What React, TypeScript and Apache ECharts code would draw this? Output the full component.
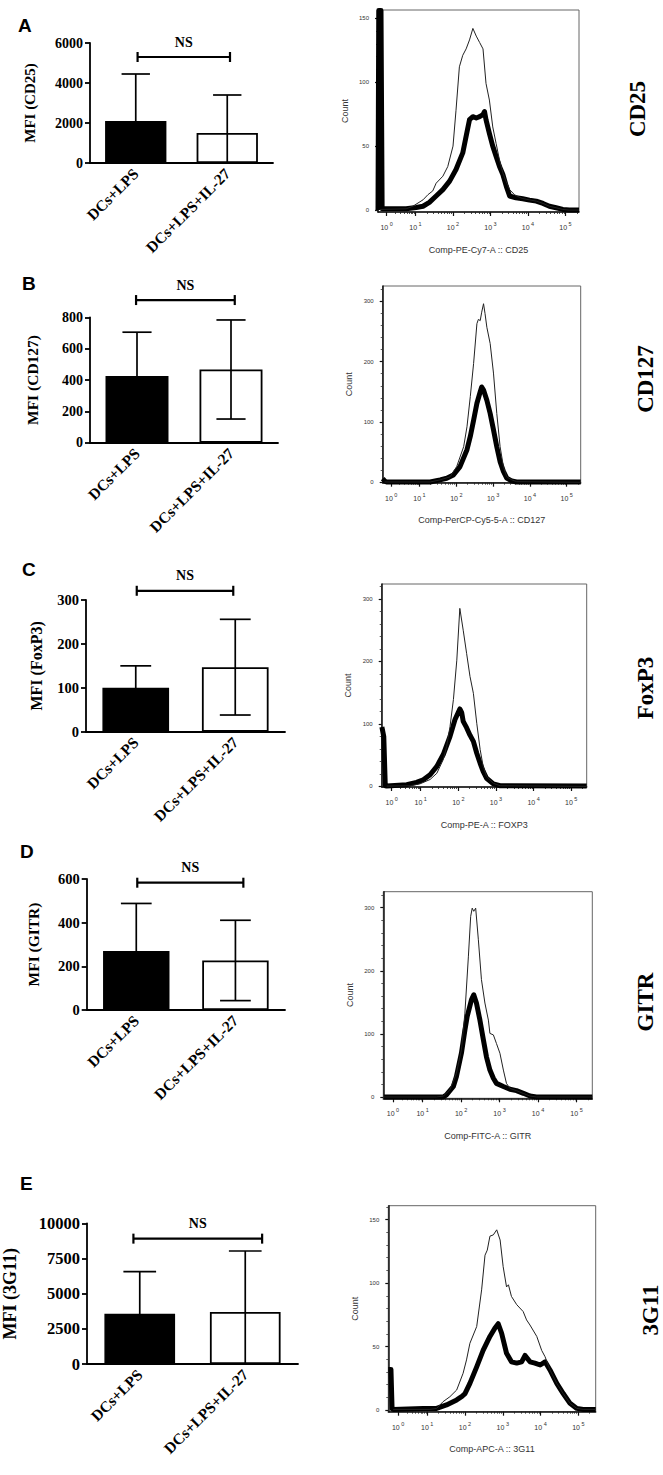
import React, { useEffect, useRef } from "react";
import * as echarts from "echarts";

// ---------- DATA ----------
const categories = ["DCs+LPS", "DCs+LPS+IL-27"];
const panelLetters = ["A", "B", "C", "D", "E"];
const markers = ["CD25", "CD127", "FoxP3", "GITR", "3G11"];
const yNames = ["MFI (CD25)", "MFI (CD127)", "MFI (FoxP3)", "MFI (GITR)", "MFI (3G11)"];

const meansCD25 = [2100, 1500];
const sdCD25 = [2350, 1900];
const meansCD127 = [425, 467];
const sdCD127 = [280, 316];
const meansFoxP3 = [100, 147];
const sdFoxP3 = [50, 109];
const meansGITR = [270, 227];
const sdGITR = [218, 184];
const means3G11 = [3580, 3700];
const sd3G11 = [2990, 4330];

const barMax = [6000, 800, 300, 600, 10000];
const barInterval = [2000, 200, 100, 200, 2500];
const bracketLevel = [5300, 910, 321, 583, 8910];
const bracketFrom = [0.02, -0.01, 0.01, 0.01, -0.06];
const bracketTo = [1.03, 1.04, 0.98, 1.08, 1.16];
const sigLabel = "NS";

const histXNames = [
  "Comp-PE-Cy7-A :: CD25",
  "Comp-PerCP-Cy5-5-A :: CD127",
  "Comp-PE-A :: FOXP3",
  "Comp-FITC-A :: GITR",
  "Comp-APC-A :: 3G11",
];
const histYTicks = [
  [0, 50, 100, 150],
  [0, 100, 200, 300],
  [0, 100, 200, 300],
  [0, 100, 200, 300],
  [0, 50, 100, 150],
];
const decadeTicks = [0.23, 1, 2, 3, 4, 5];
const decadeExps = ["0", "1", "2", "3", "4", "5"];

// histogram curves: [display position (decade units), count]
const cd25Thin = [[0.05,0.5],[0.75,1],[0.93,3],[1.2,8],[1.33,12],[1.46,15],[1.55,21],[1.73,26.5],[1.86,34],[2.0,50],[2.08,78],[2.17,112],[2.26,121],[2.35,126],[2.44,133],[2.53,142],[2.62,136],[2.71,131],[2.8,126],[2.88,99],[2.97,86],[3.06,65],[3.15,52],[3.24,39],[3.33,29],[3.42,22],[3.51,16],[3.64,12],[3.77,10],[3.86,9],[4.04,8],[4.22,7],[4.4,5.2],[4.57,3],[4.75,1.8],[4.93,0.5],[5.1,0],[5.36,0]];
const cd25Thick = [[0,0],[0.02,156],[0.08,156],[0.11,1],[0.75,1],[1.02,2],[1.2,3],[1.37,6],[1.55,11],[1.73,16],[1.91,22.6],[2.08,31.7],[2.26,44.7],[2.35,57.7],[2.44,70.7],[2.53,73],[2.62,72],[2.71,73],[2.8,74.6],[2.84,77],[2.88,70.7],[2.97,60],[3.06,50],[3.15,42],[3.24,34],[3.33,27.8],[3.42,18.7],[3.51,11],[3.68,9.6],[3.86,8.8],[4.04,7.8],[4.22,7],[4.4,5.2],[4.57,3],[4.75,1.8],[4.93,0.5],[5.1,0],[5.36,0]];

const cd127Thin = [[0.05,0.5],[1.29,0.5],[1.56,4],[1.83,9],[2.01,26],[2.2,59],[2.29,92],[2.38,142],[2.47,197],[2.56,263],[2.6,270],[2.65,268],[2.69,282],[2.74,296],[2.78,280],[2.83,257],[2.92,230],[3.01,181],[3.1,114],[3.19,59],[3.28,26],[3.37,9],[3.51,4],[3.64,1],[5.38,0]];
const cd127Thick = [[0,6],[0.06,2],[0.1,0.5],[1.29,0.5],[1.56,4],[1.74,6.6],[1.92,12],[2.1,26],[2.29,54],[2.38,76],[2.47,103],[2.56,131],[2.65,150],[2.69,158],[2.74,153],[2.83,136],[2.92,114],[3.01,87],[3.1,59],[3.19,34],[3.28,18],[3.37,7],[3.51,2],[3.64,0.5],[5.38,0.5]];

const foxp3Thin = [[0.1,0.5],[0.72,1],[0.98,4],[1.25,11],[1.43,21],[1.6,43],[1.69,64],[1.78,96],[1.87,139],[1.96,202],[2.04,285],[2.13,250],[2.22,213],[2.31,176],[2.4,149],[2.49,101],[2.58,59],[2.66,32],[2.75,16],[2.93,5],[3.11,1],[5.41,0]];
const foxp3Thick = [[-0.03,95],[0.02,80],[0.06,1],[0.1,0.5],[0.63,2.7],[0.89,6.4],[1.07,10.6],[1.25,18.6],[1.43,32],[1.6,51],[1.78,80],[1.91,106.6],[2.04,124],[2.09,118],[2.13,104],[2.22,94],[2.31,82],[2.4,72],[2.49,53],[2.58,37],[2.66,24],[2.75,13],[2.93,4],[3.11,1],[5.41,0.5]];

const gitrThin = [[0,0.5],[1.36,0.5],[1.54,2],[1.71,11.6],[1.88,38],[2.01,75],[2.1,133],[2.19,222],[2.25,286],[2.29,299],[2.33,294],[2.38,299],[2.45,249],[2.53,186],[2.62,149],[2.71,122],[2.75,101],[2.84,98.6],[2.92,85],[3.01,69.6],[3.1,43],[3.18,22],[3.27,14],[3.44,10.5],[3.62,6],[3.79,2],[3.96,0.5],[5.41,0.5]];
const gitrThick = [[0,0.5],[1.54,0.5],[1.62,3.7],[1.8,17],[1.88,33],[2.01,70],[2.1,106],[2.16,128],[2.27,154],[2.33,162],[2.4,149],[2.49,122],[2.58,91],[2.66,64],[2.75,43],[2.84,30],[2.92,22],[3.1,17],[3.27,12.6],[3.44,10.5],[3.62,6.3],[3.79,2],[3.96,0.5],[5.41,0.5]];

const g3g11Thin = [[0.1,0.5],[1.07,0.5],[1.25,1.3],[1.42,6.6],[1.6,10.5],[1.78,15.8],[1.95,29],[2.04,39.5],[2.13,52.6],[2.31,65.8],[2.44,94.7],[2.53,122],[2.59,126],[2.66,137],[2.75,138],[2.84,142],[2.93,134],[3.01,113],[3.1,97],[3.15,98.7],[3.23,89.5],[3.37,83],[3.54,77.6],[3.63,71],[3.72,67],[3.9,58],[4.03,47],[4.12,42],[4.25,31.6],[4.43,21],[4.6,13],[4.78,5.3],[4.96,1.3],[5.13,0.5],[5.46,0.5]];
const g3g11Thick = [[-0.03,32],[0.04,32],[0.07,1],[0.1,0.5],[0.89,1.3],[1.25,1.3],[1.51,4],[1.78,8],[1.91,10.5],[2.0,13],[2.13,21],[2.31,34],[2.48,47],[2.66,58],[2.79,64.5],[2.88,68],[2.97,60.5],[3.1,44.7],[3.23,38],[3.37,37],[3.5,38],[3.59,43],[3.72,38],[3.85,37],[3.99,35.5],[4.12,38],[4.25,31.6],[4.43,21],[4.6,13],[4.78,5.3],[4.96,1.3],[5.13,0.5],[5.46,0.5]];

const allMeans = [meansCD25, meansCD127, meansFoxP3, meansGITR, means3G11];
const allSDs = [sdCD25, sdCD127, sdFoxP3, sdGITR, sd3G11];
const allThin = [cd25Thin, cd127Thin, foxp3Thin, gitrThin, g3g11Thin];
const allThick = [cd25Thick, cd127Thick, foxp3Thick, gitrThick, g3g11Thick];

// ---------- LAYOUT ----------
const W = 663;
const H = 1475;
const SERIF = '"Liberation Serif", "Times New Roman", serif';
const SANS = '"Liberation Sans", Arial, sans-serif';
const barGrid = [
  [90, 43, 183, 120],
  [90, 317.3, 188, 125.4],
  [86, 600, 199, 131.7],
  [86.7, 879, 198.3, 131],
  [87, 1223.3, 211, 140.7],
];
const histGrid = [
  [378, 10, 201, 202],
  [382.7, 286, 198, 196.7],
  [381.7, 584, 205, 203],
  [383.3, 891.7, 209, 206.6],
  [388.3, 1205.7, 207.4, 206],
];
const histXMin = [0, 0, -0.035, -0.02, -0.03];
const histXMax = [5.36, 5.38, 5.41, 5.41, 5.46];
const histYMin = [-1.5, -0.7, -1, -1.6, -1.3];
const histYMax = [156.4, 325.4, 324, 325, 161];
const barTickFont = [14, 14, 14.5, 14.5, 16.5];
const yNameFont = [15, 15.5, 16, 15.5, 18];
const yNameGap = [53, 50, 42, 45, 68];
const letterPos = [[18, 25], [22, 283], [22, 569.5], [20, 851.7], [20, 1183.3]];
const markerPos = [[637, 109], [645, 379], [645, 688], [645, 1002], [650, 1310]];

function minorLogTicks(max: number) {
  const out: number[] = [];
  for (let m = 2; m <= 9; m++) out.push(0.23 + 0.77 * Math.log10(m));
  for (let d = 1; d <= 5; d++) {
    for (let m = 2; m <= 9; m++) {
      const v = d + Math.log10(m);
      if (v < max) out.push(v);
    }
  }
  return out;
}
function minorLinTicks(step: number, major: number, max: number) {
  const out: number[] = [];
  for (let v = step; v < max; v += step) if (v % major !== 0) out.push(v);
  return out;
}

function buildOption() {
  const grid: any[] = [];
  const xAxis: any[] = [];
  const yAxis: any[] = [];
  const series: any[] = [];
  const graphic: any[] = [];

  for (let p = 0; p < 5; p++) {
    // ---- bar chart ----
    const [bl, bt, bw, bh] = barGrid[p];
    grid.push({ left: bl, top: bt, width: bw, height: bh });
    const bg = grid.length - 1;
    xAxis.push({
      type: "category",
      gridIndex: bg,
      data: categories,
      axisLine: { lineStyle: { color: "#000", width: 1.8 } },
      axisTick: { alignWithLabel: true, length: 5, lineStyle: { color: "#000", width: 1.8 } },
      axisLabel: {
        interval: 0,
        rotate: 45,
        margin: 8,
        color: "#000",
        fontFamily: SERIF,
        fontWeight: "bold",
        fontSize: 15.5,
      },
      splitLine: { show: false },
    });
    const bx = xAxis.length - 1;
    yAxis.push({
      type: "value",
      gridIndex: bg,
      min: 0,
      max: barMax[p],
      interval: barInterval[p],
      name: yNames[p],
      nameLocation: "middle",
      nameRotate: 90,
      nameGap: yNameGap[p],
      nameTextStyle: { fontFamily: SERIF, fontWeight: "bold", fontSize: yNameFont[p], color: "#000" },
      axisLine: { show: true, lineStyle: { color: "#000", width: 1.8 } },
      axisTick: { show: true, length: 5, lineStyle: { color: "#000", width: 1.8 } },
      axisLabel: {
        color: "#000",
        fontFamily: SERIF,
        fontWeight: "bold",
        fontSize: barTickFont[p],
        margin: 7,
        formatter: (v: number) => String(v),
      },
      splitLine: { show: false },
    });
    const by = yAxis.length - 1;
    const means = allMeans[p];
    const sds = allSDs[p];
    series.push({
      type: "bar",
      xAxisIndex: bx,
      yAxisIndex: by,
      barWidth: "67%",
      data: [
        { value: means[0], itemStyle: { color: "#000", borderColor: "#000", borderWidth: 1.5 } },
        { value: means[1], itemStyle: { color: "#fff", borderColor: "#000", borderWidth: 1.8 } },
      ],
      z: 2,
    });
    series.push({
      type: "custom",
      xAxisIndex: bx,
      yAxisIndex: by,
      z: 3,
      dimensions: ["x", "low", "high"],
      encode: { x: 0, y: [1, 2] },
      data: means.map((m, i) => [i, Math.max(0, m - sds[i]), m + sds[i]]),
      renderItem: (params: any, api: any) => {
        const x = api.value(0);
        const lo = api.coord([x, api.value(1)]);
        const hi = api.coord([x, api.value(2)]);
        const band = api.size([1, 0])[0];
        const cw = band * 0.155;
        const st = { stroke: "#000", lineWidth: 1.7 };
        return {
          type: "group",
          children: [
            { type: "line", shape: { x1: lo[0], y1: lo[1], x2: hi[0], y2: hi[1] }, style: st },
            { type: "line", shape: { x1: hi[0] - cw, y1: hi[1], x2: hi[0] + cw, y2: hi[1] }, style: st },
            { type: "line", shape: { x1: lo[0] - cw, y1: lo[1], x2: lo[0] + cw, y2: lo[1] }, style: st },
          ],
        };
      },
    });
    series.push({
      type: "custom",
      xAxisIndex: bx,
      yAxisIndex: by,
      z: 3,
      dimensions: ["x", "level", "from", "to"],
      encode: { x: 0, y: 1 },
      data: [[0, bracketLevel[p], bracketFrom[p], bracketTo[p]]],
      renderItem: (params: any, api: any) => {
        const c0 = api.coord([0, api.value(1)]);
        const band = api.size([1, 0])[0];
        const x1 = c0[0] + api.value(2) * band;
        const x2 = c0[0] + api.value(3) * band;
        const y = c0[1];
        const st = { stroke: "#000", lineWidth: 2.2 };
        return {
          type: "group",
          children: [
            { type: "line", shape: { x1, y1: y, x2, y2: y }, style: st },
            { type: "line", shape: { x1, y1: y - 5, x2: x1, y2: y + 5 }, style: st },
            { type: "line", shape: { x1: x2, y1: y - 5, x2, y2: y + 5 }, style: st },
            {
              type: "text",
              x: (x1 + x2) / 2,
              y: y - 15,
              style: {
                text: sigLabel,
                fill: "#000",
                fontFamily: SERIF,
                fontWeight: "bold",
                fontSize: 14,
                align: "center",
                verticalAlign: "middle",
              },
            },
          ],
        };
      },
    });

    // ---- histogram ----
    const [hl, ht, hw, hh] = histGrid[p];
    grid.push({ left: hl, top: ht, width: hw, height: hh, show: true, borderColor: "#666", borderWidth: 1 });
    const hg = grid.length - 1;
    xAxis.push({
      type: "value",
      gridIndex: hg,
      min: histXMin[p],
      max: histXMax[p],
      position: "bottom",
      name: histXNames[p],
      nameLocation: "middle",
      nameGap: 33,
      nameTextStyle: { fontFamily: SANS, fontSize: 9, color: "#333" },
      axisLine: { show: true, onZero: false, lineStyle: { color: "#111", width: 1.5 } },
      axisTick: { show: true, customValues: decadeTicks, length: 4, lineStyle: { color: "#111", width: 1.2 } },
      axisLabel: {
        show: true,
        customValues: decadeTicks,
        margin: 9,
        formatter: (v: number) => {
          const i = decadeTicks.findIndex((d) => Math.abs(d - v) < 1e-6);
          return "{b|10}{s|" + (i >= 0 ? decadeExps[i] : "") + "}";
        },
        rich: {
          b: { fontFamily: SANS, fontSize: 7, color: "#333", lineHeight: 10, verticalAlign: "bottom" },
          s: { fontFamily: SANS, fontSize: 5.5, color: "#333", lineHeight: 10, verticalAlign: "top", padding: [0, 0, 0, 1.5] },
        },
      },
      splitLine: { show: false },
    });
    const hx = xAxis.length - 1;
    xAxis.push({
      type: "value",
      gridIndex: hg,
      min: histXMin[p],
      max: histXMax[p],
      position: "bottom",
      axisLine: { show: false, onZero: false },
      axisTick: { show: true, customValues: minorLogTicks(histXMax[p]), length: 2, lineStyle: { color: "#222", width: 0.8 } },
      axisLabel: { show: false },
      splitLine: { show: false },
    });
    const yt = histYTicks[p];
    const major = yt[1];
    yAxis.push({
      type: "value",
      gridIndex: hg,
      min: histYMin[p],
      max: histYMax[p],
      position: "left",
      name: "Count",
      nameLocation: "middle",
      nameRotate: 90,
      nameGap: 29,
      nameTextStyle: { fontFamily: SANS, fontSize: 9, color: "#333" },
      axisLine: { show: true, onZero: false, lineStyle: { color: "#111", width: 1.5 } },
      axisTick: { show: true, customValues: yt, length: 3, lineStyle: { color: "#111", width: 1.2 } },
      axisLabel: { show: true, customValues: yt, fontFamily: SANS, fontSize: 6, color: "#333", margin: 9 },
      splitLine: { show: false },
    });
    const hy = yAxis.length - 1;
    yAxis.push({
      type: "value",
      gridIndex: hg,
      min: histYMin[p],
      max: histYMax[p],
      position: "left",
      axisLine: { show: false, onZero: false },
      axisTick: { show: true, customValues: minorLinTicks(major / 5, major, histYMax[p]), length: 2, lineStyle: { color: "#333", width: 0.8 } },
      axisLabel: { show: false },
      splitLine: { show: false },
    });
    series.push({
      type: "line",
      xAxisIndex: hx,
      yAxisIndex: hy,
      data: allThick[p],
      symbol: "none",
      showSymbol: false,
      clip: false,
      lineStyle: { color: "#000", width: 5, join: "round" },
      z: 2,
    });
    series.push({
      type: "line",
      xAxisIndex: hx,
      yAxisIndex: hy,
      data: allThin[p],
      symbol: "none",
      showSymbol: false,
      clip: false,
      lineStyle: { color: "#222", width: 1 },
      z: 3,
    });

    // ---- texts ----
    graphic.push({
      type: "text",
      x: letterPos[p][0],
      y: letterPos[p][1],
      style: {
        text: panelLetters[p],
        fill: "#000",
        fontFamily: SANS,
        fontWeight: "bold",
        fontSize: 19,
        align: "left",
        verticalAlign: "middle",
      },
    });
    graphic.push({
      type: "text",
      x: markerPos[p][0],
      y: markerPos[p][1],
      rotation: Math.PI / 2,
      style: {
        text: markers[p],
        fill: "#000",
        fontFamily: SERIF,
        fontWeight: "bold",
        fontSize: 23,
        align: "center",
        verticalAlign: "middle",
      },
    });
  }

  return {
    animation: false,
    backgroundColor: "#fff",
    grid,
    xAxis,
    yAxis,
    series,
    graphic,
  };
}

export default function App() {
  const ref = useRef<HTMLDivElement>(null);
  useEffect(() => {
    document.body.style.margin = "0";
    if (!ref.current) return;
    const chart = echarts.init(ref.current, undefined, { renderer: "svg" });
    chart.setOption(buildOption() as any);
    return () => chart.dispose();
  }, []);
  return <div ref={ref} style={{ width: W, height: H }} />;
}
